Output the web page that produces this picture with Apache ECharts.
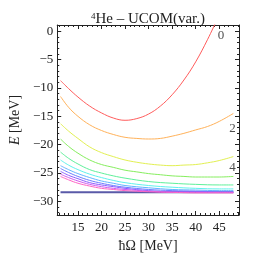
<!DOCTYPE html>
<html><head><meta charset="utf-8">
<script src="https://cdn.jsdelivr.net/npm/echarts@6/dist/echarts.min.js"></script>
<style>html,body{margin:0;padding:0;background:#fff}#c{width:258px;height:258px}</style>
</head><body><div id="c"></div>
<script>
// Nmax labels of the curves
const nmaxLabels = ['0','2','4','6','8','10','12','14','16','18','20'];
// ħΩ sample points (MeV) per curve and energies (MeV)
const hw0 = [11.3,13,15,17.5,20,22.5,25,27.5,30,32.5,35,37.5,40,42.5,44.5];
const e0  = [-8.7,-10.1,-11.6,-13.2,-14.4,-15.3,-15.7,-15.4,-14.6,-13.2,-11.2,-8.6,-5.4,-1.5,2.0];
const hwA = [11.3,13,15,17.5,20,22.5,25,27.5,30,32.5,35,37.5,40,42.5,45,48];
const e2  = [-11.5,-13.4,-15.0,-16.5,-17.5,-18.2,-18.7,-18.9,-19.0,-18.9,-18.5,-18.0,-17.4,-16.8,-15.9,-14.5];
const e4  = [-16.3,-17.6,-18.9,-20.4,-21.4,-22.1,-22.7,-23.1,-23.4,-23.6,-23.7,-23.6,-23.5,-23.2,-22.8,-22.1];
const e6  = [-19.0,-20.3,-21.5,-22.7,-23.5,-24.0,-24.5,-24.8,-25.1,-25.3,-25.5,-25.6,-25.7,-25.7,-25.7,-25.6];
const hwB = [11.3,13,15,17.5,20,22.5,25,30,35,40,45,48];
const e8  = [-21.3,-22.4,-23.4,-24.4,-25.0,-25.5,-25.9,-26.5,-26.8,-27.0,-27.1,-27.1];
const e10 = [-22.7,-23.6,-24.4,-25.2,-25.8,-26.3,-26.7,-27.2,-27.5,-27.7,-27.8,-27.8];
const e12 = [-23.7,-24.4,-25.1,-25.8,-26.4,-26.8,-27.2,-27.6,-27.9,-28.0,-28.1,-28.1];
const e14 = [-24.2,-24.9,-25.6,-26.3,-26.8,-27.2,-27.5,-27.9,-28.1,-28.2,-28.3,-28.3];
const e16 = [-24.7,-25.4,-26.0,-26.7,-27.1,-27.4,-27.7,-28.1,-28.3,-28.3,-28.4,-28.4];
const e18 = [-25.2,-25.8,-26.4,-27.0,-27.4,-27.7,-27.9,-28.2,-28.4,-28.4,-28.4,-28.4];
const e20 = [-25.6,-26.2,-26.8,-27.3,-27.7,-27.9,-28.1,-28.3,-28.4,-28.5,-28.5,-28.5];
// converged (exact) energy
const hwExact = [11.3,48];
const eExact = [-28.4,-28.4];
// curve label annotations
const annText = ['0','2','4'];
const annX = [45.4,47.8,47.8];
const annY = [-0.8,-17.2,-24.0];
const xTicks = [15,20,25,30,35,40,45];
const yTicks = [0,-5,-10,-15,-20,-25,-30];

const colors = ['#ff5c5c','#ffb25a','#e2f052','#86ee5e','#5ef09a','#5ef2ec','#64b4ff','#6c7cff','#8c5cff','#d05cf0','#ff64c4'];
const curves = [[hw0,e0],[hwA,e2],[hwA,e4],[hwA,e6],[hwB,e8],[hwB,e10],[hwB,e12],[hwB,e14],[hwB,e16],[hwB,e18],[hwB,e20]];
const zip = (a,b)=>a.map((v,i)=>[v,b[i]]);
const fmt = v => { const r = Math.round(v); if (Math.abs(v-r)>1e-6) return ''; return r<0 ? '\u2212'+(-r) : String(r); };
const font = '"Liberation Serif", "DejaVu Serif", serif';

const series = [{
  type:'line', data: zip(hwExact,eExact), symbol:'none', lineStyle:{color:'#5a5aa8', width:2}, z:1
}];
curves.forEach((c,i)=>series.push({
  type:'line', name:nmaxLabels[i], data: zip(c[0],c[1]), smooth:0.4, symbol:'none',
  lineStyle:{color:colors[i], width:1}, z:2
}));
series.push({
  type:'scatter', symbolSize:0, data: annText.map((t,i)=>({value:[annX[i],annY[i]], name:t})),
  label:{show:true, position:'inside', formatter:p=>p.name, fontFamily:font, fontSize:13, color:'#222'}, z:5
});

const mkX = (pos, lbl) => ({
  type:'value', position:pos, min:10.6, max:49.2, splitNumber:8,
  axisLine:{show:true, onZero:false, lineStyle:{color:'#222', width:1}},
  axisTick:{show:true, inside:true, length:4, lineStyle:{color:'#222'}},
  minorTick:{show:true, splitNumber:5, length:2, lineStyle:{color:'#222'}},
  splitLine:{show:false},
  axisLabel:{show:lbl, formatter:v=>xTicks.includes(Math.round(v))&&Math.abs(v-Math.round(v))<1e-6?fmt(v):'', fontFamily:font, fontSize:13, color:'#222', margin:6, showMinLabel:false, showMaxLabel:false},
  name: lbl ? 'ħΩ [MeV]' : '', nameLocation:'middle', nameGap:24,
  nameTextStyle:{fontFamily:font, fontSize:14, color:'#222'}
});
const mkY = (pos, lbl) => ({
  type:'value', position:pos, min:-32.4, max:1.1, splitNumber:7,
  axisLine:{show:true, onZero:false, lineStyle:{color:'#222', width:1}},
  axisTick:{show:true, inside:true, length:4, lineStyle:{color:'#222'}},
  minorTick:{show:true, splitNumber:5, length:2, lineStyle:{color:'#222'}},
  splitLine:{show:false},
  axisLabel:{show:lbl, formatter:v=>yTicks.includes(Math.round(v))&&Math.abs(v-Math.round(v))<1e-6?fmt(v):'', fontFamily:font, fontSize:13, color:'#222', margin:4, showMinLabel:false, showMaxLabel:false},
  name: lbl ? '{i|E} [MeV]' : '', nameLocation:'middle', nameGap:32, nameRotate:90,
  nameTextStyle:{fontFamily:font, fontSize:14, color:'#222', rich:{i:{fontFamily:font, fontSize:14, fontStyle:'italic', color:'#222'}}}
});

const chart = echarts.init(document.getElementById('c'), null, {renderer:'canvas'});
chart.setOption({
  animation:false,
  backgroundColor:'#fff',
  title:{text:'{s|4}{t|He \u2013 UCOM(var.)}', left:143, top:7, textAlign:'center',
    textStyle:{fontWeight:'normal', rich:{s:{fontFamily:font, fontSize:9, fontWeight:'normal', color:'#222', verticalAlign:'top', padding:[0,0,6,0]}, t:{fontFamily:font, fontSize:15, fontWeight:'normal', color:'#222'}}}},
  grid:{left:47, right:19, top:25, bottom:42, containLabel:false},
  xAxis:[mkX('bottom',true), mkX('top',false)],
  yAxis:[mkY('left',true), mkY('right',false)],
  series: series
});
</script></body></html>
